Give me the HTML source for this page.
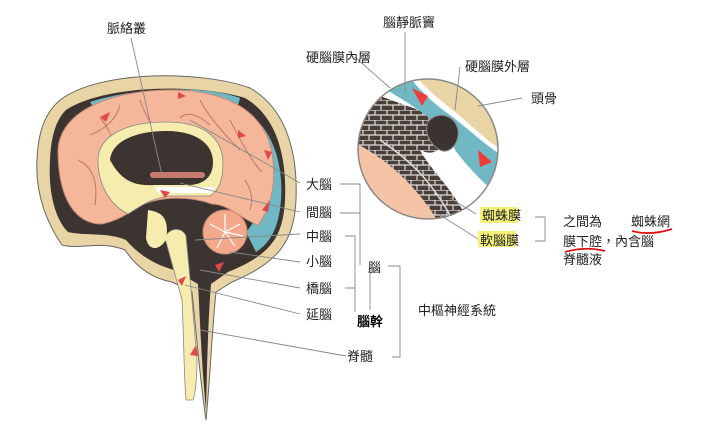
<!DOCTYPE html>
<html><head><meta charset="utf-8"><style>
html,body{margin:0;padding:0;background:#fff;}
svg{display:block}
text{font-family:"Liberation Sans","Noto Sans CJK TC",sans-serif;font-size:13px;fill:#222}
</style></head><body>
<svg width="719" height="430" viewBox="0 0 719 430" xmlns="http://www.w3.org/2000/svg">
<!-- skull -->
<path d="M60,100 C100,70 200,70 250,88 C285,108 298,150 296,200 C294,240 280,262 232,282 L216,292 C212,330 210,380 206,420 C200,380 196,330 192,292 L172,282 C150,278 135,265 125,250 C100,240 80,250 62,245 C48,225 35,195 37,160 C38,130 46,112 60,100 Z" fill="#e8d4a4" stroke="#666" stroke-width="1"/>
<path d="M66,110 C105,84 200,84 245,98 C276,116 287,155 285,200 C283,238 270,255 228,272 L211,284 C208,320 207,370 206,410 C202,370 200,320 198,284 L174,270 C152,264 136,252 126,240 C108,232 84,236 68,232 C56,220 48,195 50,160 C51,136 56,120 66,110 Z" fill="#3b3431"/>
<!-- blue CSF spaces -->
<path d="M238,106 C270,122 284,160 281,200 C279,225 272,242 256,252 L246,232 C262,215 268,180 262,150 C258,130 250,116 238,106 Z" fill="#6fb8c4"/>
<path d="M90,102 C140,86 210,86 240,98 L238,106 C200,94 140,94 95,110 Z" fill="#6fb8c4"/>
<!-- cerebrum -->
<path d="M58,150 C60,108 118,90 170,90 C228,90 268,112 273,160 C276,192 268,212 258,225 C240,218 228,204 212,204 C190,196 162,196 142,205 C130,212 120,220 102,224 C76,224 58,200 58,150 Z" fill="#f4b79a" stroke="#c98b78" stroke-width="1"/>
<path d="M100,118 Q120,140 110,170 M140,100 Q150,130 170,140 M200,100 Q210,120 240,150 M78,160 Q100,170 95,205 M230,120 Q250,160 262,172 M180,118 Q190,108 210,125 M120,105 Q115,125 90,135 M245,180 Q255,195 250,210" stroke="#c0776a" fill="none" stroke-width="1"/>
<!-- corpus callosum -->
<path d="M98,160 C98,135 128,122 165,122 C205,122 222,138 223,162 C223,178 220,190 210,196 L170,196 C150,198 138,208 128,214 C110,205 98,185 98,160 Z" fill="#f6ecae" stroke="#888" stroke-width="0.8"/>
<path d="M110,160 C112,140 138,131 166,131 C198,131 213,145 213,162 C213,176 205,184 190,185 L155,185 C135,186 122,182 110,160 Z" fill="#3b3431"/>
<rect x="150" y="172" width="55" height="6" rx="3" fill="#c97a70"/>
<path d="M155,187 L215,187 L212,193 L158,193 Z" fill="#fff"/>
<!-- brainstem -->
<path d="M165,238 C168,228 182,226 186,236 L192,300 L197,360 C197,380 195,395 193,400 L186,400 C184,380 184,340 182,300 Z" fill="#f6ecae" stroke="#888" stroke-width="0.8"/>
<path d="M148,210 C160,212 170,216 166,240 C158,252 148,250 146,238 Z" fill="#f6ecae"/>
<!-- cerebellum -->
<circle cx="225" cy="232" r="22" fill="#f3a88a" stroke="#c98b78"/>
<path d="M225,232 l-15,-8 M225,232 l0,-18 M225,232 l15,-8 M225,232 l18,4 M225,232 l10,14 M225,232 l-8,16" stroke="#fff" stroke-width="1.2"/>
<!-- red arrows -->
<g fill="#e0474a">
<polygon points="100,117 110,112 106,122"/><polygon points="178,92 186,96 178,99"/><polygon points="238,130 246,136 238,138"/><polygon points="270,200 262,210 268,212"/><polygon points="268,160 264,150 272,152"/><polygon points="190,355 196,345 198,356"/><polygon points="178,280 186,276 182,286"/><polygon points="215,265 224,262 219,272"/><polygon points="160,190 170,192 165,198"/>
</g>
<!-- circle inset -->
<defs><clipPath id="c"><circle cx="428" cy="149" r="70"/></clipPath>
<pattern id="cr" width="12" height="10" patternUnits="userSpaceOnUse"><rect width="12" height="10" fill="#4a3e39"/><path d="M0,0 L12,0 M0,5 L12,5 M3,0 L3,5 M9,5 L9,10" stroke="#ddd" stroke-width="1.2"/></pattern></defs>
<g clip-path="url(#c)">
<rect x="350" y="75" width="160" height="150" fill="#f5c3a5"/>
<path d="M350,75 L510,75 L510,225 L440,225 C420,190 390,160 350,140 Z" fill="url(#cr)"/>
<path d="M350,75 L510,75 L510,225 L470,225 C455,190 430,170 420,150 C440,160 450,140 445,120 C420,110 390,100 350,85 Z" fill="#fff"/>
<path d="M350,75 L510,75 L510,205 C490,190 470,170 455,150 C450,130 420,110 395,95 C380,85 370,80 365,75 Z" fill="#6fb8c4"/>
<path d="M400,75 L510,75 L510,160 C490,150 470,130 450,115 C435,105 420,90 410,78 Z" fill="#fff"/>
<path d="M405,75 L510,75 L510,155 C490,145 472,125 455,112 C440,100 425,88 415,75 Z" fill="#e8d4a4"/>
<path d="M428,122 C438,110 455,115 458,130 C460,142 450,155 440,150 C430,145 424,132 428,122 Z" fill="#3a3330" stroke="#888"/>
<path d="M380,140 C410,160 430,180 450,215" stroke="#ddd" stroke-width="1.5" fill="none"/>
<polygon points="412,88 428,96 422,106" fill="#ef3a3a"/><polygon points="478,150 492,162 480,167" fill="#ef3a3a"/>
</g>
<circle cx="428" cy="149" r="70" fill="none" stroke="#888" stroke-width="1.5"/>
<!-- leader lines -->
<g stroke="#888" fill="none" stroke-width="0.9">
<line x1="131" y1="38" x2="162" y2="175"/>
<line x1="190" y1="120" x2="300" y2="183"/><line x1="180" y1="183" x2="300" y2="212"/>
<line x1="195" y1="240" x2="300" y2="234"/><line x1="230" y1="252" x2="300" y2="262"/>
<line x1="200" y1="270" x2="300" y2="288"/><line x1="185" y1="285" x2="300" y2="314"/>
<line x1="200" y1="330" x2="346" y2="356"/>
<path d="M340,184 H360 V265 M340,213 H360 M345,236 H355 V312 M345,288 H355 M370,266 V310"/>
<path d="M388,266 H400 V357 H392"/>
<line x1="405" y1="32" x2="405" y2="92"/><line x1="355" y1="57" x2="390" y2="88"/>
<line x1="460" y1="67" x2="455" y2="110"/><line x1="522" y1="98" x2="478" y2="106"/>
<line x1="450" y1="198" x2="476" y2="214"/><line x1="440" y1="215" x2="478" y2="239"/>
<path d="M535,217 H545 V241 H535"/>
</g>
<!-- highlights -->
<rect x="480" y="207" width="38" height="16" fill="#f5f07a"/>
<rect x="478" y="231" width="38" height="16" fill="#f5f07a"/>
<!-- labels -->
<text x="107" y="33">脈絡叢</text>
<text x="383" y="27">腦靜脈竇</text>
<text x="306" y="62">硬腦膜內層</text>
<text x="465" y="71">硬腦膜外層</text>
<text x="531" y="103">頭骨</text>
<text x="306" y="189">大腦</text>
<text x="306" y="217">間腦</text>
<text x="306" y="241">中腦</text>
<text x="306" y="266">小腦</text>
<text x="306" y="293">橋腦</text>
<text x="306" y="319">延腦</text>
<text x="368" y="272">腦</text>
<text x="357" y="326" style="font-weight:bold;fill:#000">腦幹</text>
<text x="418" y="315">中樞神經系統</text>
<text x="347" y="361">脊髓</text>
<text x="482" y="220">蜘蛛膜</text>
<text x="480" y="245">軟腦膜</text>
<text x="563" y="226">之間為</text>
<text x="631" y="226">蜘蛛網</text>
<text x="563" y="246">膜下腔，內含腦</text>
<text x="563" y="264">脊髓液</text>
<path d="M632,231 Q650,236 672,229" stroke="#d11" stroke-width="1.8" fill="none"/>
<path d="M565,252 Q585,246 605,251" stroke="#d11" stroke-width="1.8" fill="none"/>
</svg>
</body></html>
